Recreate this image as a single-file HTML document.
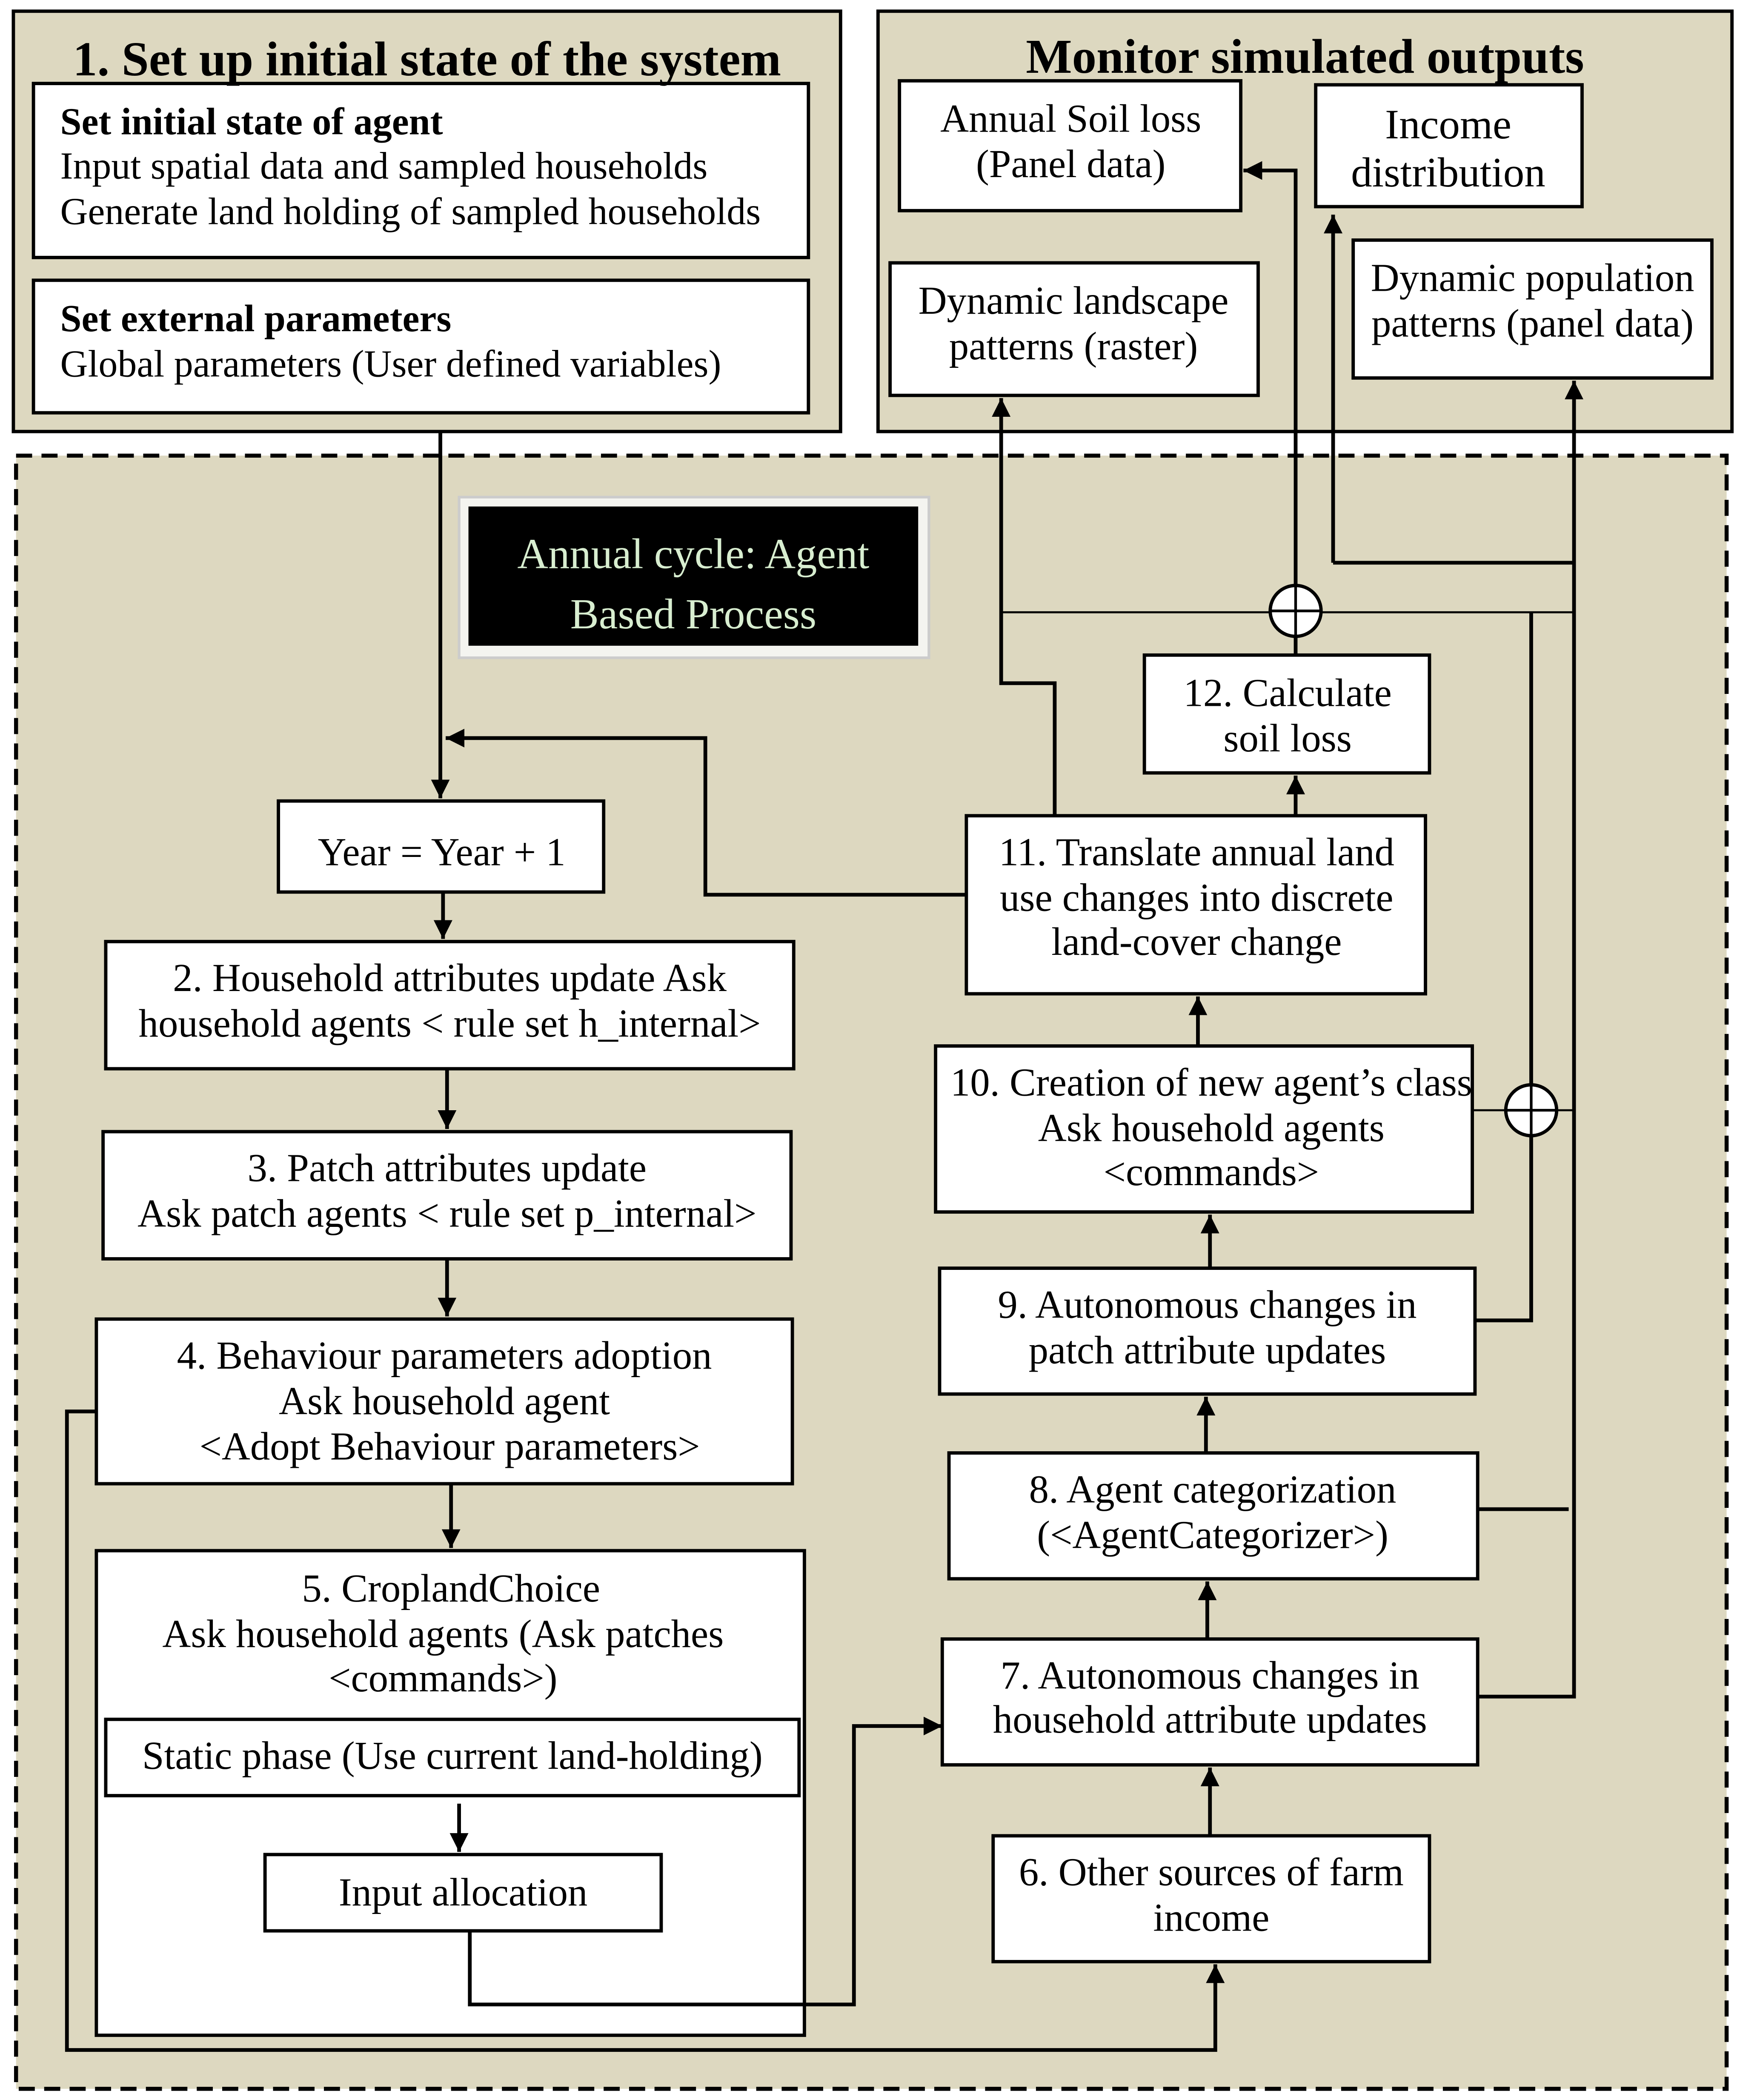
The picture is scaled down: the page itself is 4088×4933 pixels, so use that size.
<!DOCTYPE html>
<html><head><style>html,body{margin:0;padding:0;background:#fff}svg{display:block}text{font-family:"Liberation Serif","Times New Roman",serif}</style></head><body>
<svg width="4088" height="4933" viewBox="0 0 1300 1568" xmlns="http://www.w3.org/2000/svg" font-size="28.6">
<defs><marker id="a" viewBox="0 0 10 10" refX="10" refY="5" markerWidth="5" markerHeight="5" orient="auto" markerUnits="strokeWidth"><path d="M0,0L10,5L0,10z" fill="#000"/></marker></defs>
<rect width="1300" height="1568" fill="#fff"/>
<g stroke="#000" stroke-width="2.5" fill="#ddd8c0">
<rect x="10" y="8" width="618" height="314"/>
<rect x="656" y="8" width="638" height="314"/>
<rect x="12" y="340" width="1278" height="1220" stroke-dasharray="12,7" stroke-width="3"/>
</g>
<g stroke="#000" stroke-width="2.5" fill="#fff">
<rect x="25" y="62" width="579" height="130"/><rect x="25" y="209" width="579" height="99"/>
<rect x="672" y="60" width="255" height="97"/><rect x="983" y="63" width="199" height="91"/>
<rect x="665" y="196" width="275" height="99"/><rect x="1011" y="179" width="268" height="103"/>
<rect x="208" y="598" width="243" height="68"/><rect x="79" y="703" width="514" height="95"/>
<rect x="77" y="845" width="514" height="95"/><rect x="72" y="985" width="520" height="123"/>
<rect x="72" y="1158" width="529" height="362"/><rect x="79" y="1284" width="518" height="57"/>
<rect x="198" y="1385" width="296" height="57"/><rect x="742" y="1371" width="326" height="94"/>
<rect x="704" y="1224" width="400" height="94"/><rect x="709" y="1085" width="395" height="94"/>
<rect x="702" y="947" width="400" height="94"/><rect x="699" y="781" width="401" height="124"/>
<rect x="722" y="609" width="343" height="133"/><rect x="855" y="489" width="213" height="88"/>
</g>
<rect x="343" y="371" width="351" height="120" fill="#f4f4f0" stroke="#ccc" stroke-width="2"/>
<rect x="350" y="378" width="336" height="104" fill="#000"/>
<g fill="none" stroke="#000" stroke-width="2.8">
<path d="M329 322V596" marker-end="url(#a)"/>
<path d="M722 668H527V551H333" marker-end="url(#a)"/>
<path d="M331 666V701" marker-end="url(#a)"/>
<path d="M334 798V843" marker-end="url(#a)"/>
<path d="M334 940V983" marker-end="url(#a)"/>
<path d="M337 1108V1156" marker-end="url(#a)"/>
<path d="M343 1347V1383" marker-end="url(#a)"/>
<path d="M351 1442V1497H638V1289H704" marker-end="url(#a)"/>
<path d="M72 1054H50V1531H908V1467" marker-end="url(#a)"/>
<path d="M904 1371V1320" marker-end="url(#a)"/>
<path d="M902 1224V1181" marker-end="url(#a)"/>
<path d="M901 1085V1043" marker-end="url(#a)"/>
<path d="M904 947V907" marker-end="url(#a)"/>
<path d="M895 781V744" marker-end="url(#a)"/>
<path d="M968 609V579" marker-end="url(#a)"/>
<path d="M788 609V510H748V297" marker-end="url(#a)"/>
<path d="M968 489V127H929" marker-end="url(#a)"/>
<path d="M996 420V160" marker-end="url(#a)"/>
<path d="M996 420H1175"/>
<path d="M1104 1267H1176V284" marker-end="url(#a)"/>
<path d="M1104 1127H1172"/>
<path d="M1102 986H1144V457"/>
</g>
<g stroke="#000" stroke-width="1.5" fill="none"><path d="M748 457H1175M1100 829H1175"/></g>
<g stroke="#000" stroke-width="2.5" fill="#fff"><circle cx="968" cy="456" r="19"/><circle cx="1144" cy="829" r="19"/></g>
<g stroke="#000" stroke-width="2"><path d="M949 456H987M968 437V475M1125 829H1163M1144 810V848"/></g>
<g font-weight="bold" font-size="36.5" text-anchor="middle"><text x="319" y="56">1. Set up initial state of the system</text><text x="975" y="54">Monitor simulated outputs</text></g>
<g font-size="28.6">
<text x="45" y="100" font-weight="bold">Set initial state of agent</text>
<text x="45" y="133">Input spatial data and sampled households</text>
<text x="45" y="167">Generate land holding of sampled households</text>
<text x="45" y="247" font-weight="bold">Set external parameters</text>
<text x="45" y="281">Global parameters (User defined variables)</text>
</g>
<g text-anchor="middle" font-size="29.5">
<text x="800" y="98">Annual Soil loss</text><text x="800" y="132">(Panel data)</text>
<text x="1082" y="103" font-size="31.5">Income</text><text x="1082" y="139" font-size="31.5">distribution</text>
<text x="802" y="234">Dynamic landscape</text><text x="802" y="268">patterns (raster)</text>
<text x="1145" y="217">Dynamic population</text><text x="1145" y="251">patterns (panel data)</text>
<text x="518" y="424" fill="#d8eed0" font-size="32">Annual cycle: Agent</text><text x="518" y="469" fill="#d8eed0" font-size="32">Based Process</text>
<text x="330" y="646">Year = Year + 1</text>
<text x="336" y="740">2. Household attributes update Ask</text><text x="336" y="774">household agents &lt; rule set h_internal&gt;</text>
<text x="334" y="882">3. Patch attributes update</text><text x="334" y="916">Ask patch agents &lt; rule set p_internal&gt;</text>
<text x="332" y="1022">4. Behaviour parameters adoption</text><text x="332" y="1056">Ask household agent</text><text x="336" y="1090">&lt;Adopt Behaviour parameters&gt;</text>
<text x="337" y="1196">5. CroplandChoice</text><text x="331" y="1230">Ask household agents (Ask patches</text><text x="331" y="1263">&lt;commands&gt;)</text>
<text x="338" y="1321">Static phase (Use current land-holding)</text>
<text x="346" y="1423">Input allocation</text>
<text x="905" y="1408">6. Other sources of farm</text><text x="905" y="1442">income</text>
<text x="904" y="1261">7. Autonomous changes in</text><text x="904" y="1294">household attribute updates</text>
<text x="906" y="1122">8. Agent categorization</text><text x="906" y="1156">(&lt;AgentCategorizer&gt;)</text>
<text x="902" y="984">9. Autonomous changes in</text><text x="902" y="1018">patch attribute updates</text>
<text x="905" y="818">10. Creation of new agent’s class</text><text x="905" y="852">Ask household agents</text><text x="905" y="885">&lt;commands&gt;</text>
<text x="894" y="646">11. Translate annual land</text><text x="894" y="680">use changes into discrete</text><text x="894" y="713">land-cover change</text>
<text x="962" y="527">12. Calculate</text><text x="962" y="561">soil loss</text>
</g>
</svg>
</body></html>
